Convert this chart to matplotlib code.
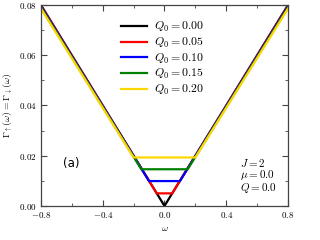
import matplotlib
matplotlib.use('Agg')
import matplotlib.pyplot as plt
from matplotlib.ticker import MultipleLocator, FuncFormatter

plt.rcParams['mathtext.fontset'] = 'cm'
plt.rcParams['font.family'] = ['DejaVu Serif']

# values: corners of each curve
q0_labels = ['0.00', '0.05', '0.10', '0.15', '0.20']
colors = ['black', 'red', 'blue', 'green', 'gold']
omega_pts = [
    [-0.8, 0.0, 0.8],
    [-0.8, -0.05, 0.05, 0.8],
    [-0.8, -0.10, 0.10, 0.8],
    [-0.8, -0.15, 0.15, 0.8],
    [-0.8, -0.20, 0.20, 0.8],
]
gamma_pts = [
    [0.0800, 0.0, 0.0800],
    [0.0797, 0.0050, 0.0050, 0.0797],
    [0.0794, 0.0099, 0.0099, 0.0794],
    [0.0790, 0.0146, 0.0146, 0.0790],
    [0.0786, 0.0193, 0.0193, 0.0786],
]

fig = plt.figure(figsize=(3.2, 2.4), dpi=100)
ax = fig.add_axes([0.128, 0.142, 0.772, 0.837])

for lab, c, xs, ys in zip(q0_labels, colors, omega_pts, gamma_pts):
    ax.plot(xs, ys, color=c, lw=1.6, label=r'$Q_0 = %s$' % lab, solid_joinstyle='miter')

ax.set_xlim(-0.8, 0.8)
ax.set_ylim(0, 0.08)
ax.xaxis.set_major_locator(MultipleLocator(0.4))
ax.xaxis.set_minor_locator(MultipleLocator(0.2))
ax.yaxis.set_major_locator(MultipleLocator(0.02))
ax.yaxis.set_minor_locator(MultipleLocator(0.01))
ax.xaxis.set_major_formatter(FuncFormatter(lambda v, p: r'$%.1f$' % v))
ax.yaxis.set_major_formatter(FuncFormatter(lambda v, p: r'$%.2f$' % v))
ax.tick_params(which='both', direction='in', top=True, right=True, labelsize=6.5,
               color='#444444')
ax.tick_params(which='major', length=4, pad=3)
ax.tick_params(which='minor', length=2.5)
for s in ax.spines.values():
    s.set_color('#444444')
    s.set_linewidth(0.9)

ax.set_xlabel(r'$\omega$', fontsize=7)
ax.xaxis.set_label_coords(0.5, -0.09)
ax.set_ylabel(r'$\Gamma_\uparrow(\omega) = \Gamma_\downarrow(\omega)$', fontsize=7)
ax.yaxis.set_label_coords(-0.105, 0.5)

ax.legend(loc='upper left', bbox_to_anchor=(0.30, 0.955), frameon=False, fontsize=8.5,
          handlelength=2.2, handletextpad=0.6, labelspacing=0.15, borderpad=0)

ax.text(-0.655, 0.0167, '(a)', family='DejaVu Sans', fontsize=8.5, va='center')
ax.text(0.49, 0.0171, r'$J = 2$', fontsize=8, va='center')
ax.text(0.49, 0.0123, r'$\mu = 0.0$', fontsize=8, va='center')
ax.text(0.49, 0.0073, r'$Q = 0.0$', fontsize=8, va='center')

fig.savefig('out.png', dpi=100)
